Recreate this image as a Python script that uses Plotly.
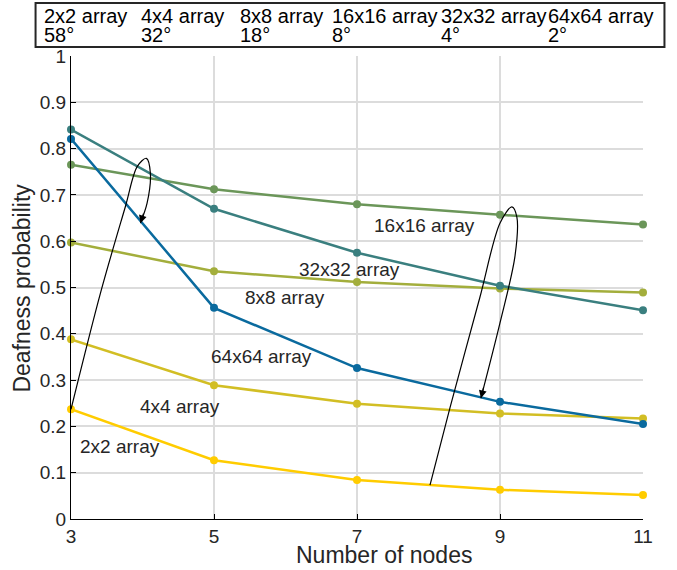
import plotly.graph_objects as go

nodes = [3, 5, 7, 9, 11]
series_names = ["2x2 array", "4x4 array", "8x8 array", "16x16 array", "32x32 array", "64x64 array"]
beam_widths = ["58°", "32°", "18°", "8°", "4°", "2°"]
p_2x2 = [0.237, 0.127, 0.084, 0.063, 0.052]
p_4x4 = [0.388, 0.289, 0.249, 0.228, 0.217]
p_8x8 = [0.597, 0.535, 0.512, 0.498, 0.489]
p_16x16 = [0.765, 0.712, 0.680, 0.657, 0.636]
p_32x32 = [0.841, 0.670, 0.575, 0.504, 0.451]
p_64x64 = [0.821, 0.456, 0.326, 0.253, 0.205]
series_values = [p_2x2, p_4x4, p_8x8, p_16x16, p_32x32, p_64x64]
colors = ["#FFCC00", "#D2BE24", "#A3AE3C", "#6B9659", "#3A7F7F", "#0A6A9E"]

# in-plot label positions (data coords)
label_x = [3.68, 4.53, 5.99, 7.95, 6.90, 5.66]
label_y = [0.156, 0.244, 0.479, 0.635, 0.538, 0.350]

# curved arrows (data coords)
arrow1_x = [3.000, 3.412, 3.761, 3.925, 4.054, 4.110, 4.064, 3.971]
arrow1_y = [0.237, 0.488, 0.675, 0.761, 0.779, 0.747, 0.682, 0.639]
arrow2_x = [8.021, 8.300, 8.719, 8.999, 9.166, 9.236, 9.208, 8.999, 8.733]
arrow2_y = [0.073, 0.240, 0.479, 0.639, 0.674, 0.652, 0.566, 0.423, 0.261]

# header legend positions (pixels from left of the page)
header_px = [41, 139, 238, 330, 439, 546]

W, H = 677, 570
PL, PR, PT, PB = 70.5, 643.5, 56, 519
ML, MR, MT, MB = PL, W - PR, PT, H - PB
FONT = "Liberation Sans, Arial, sans-serif"
TXT = "#262626"

fig = go.Figure()
for name, vals, c in zip(series_names, series_values, colors):
    fig.add_trace(go.Scatter(x=nodes, y=vals, mode="lines+markers", name=name,
                             line=dict(color=c, width=2.5),
                             marker=dict(color=c, size=8), cliponaxis=False))

for ax_, ay_ in [(arrow1_x, arrow1_y), (arrow2_x, arrow2_y)]:
    fig.add_trace(go.Scatter(x=ax_, y=ay_, mode="lines", line=dict(color="black", width=1.2,
                             shape="spline", smoothing=0.9), cliponaxis=False, hoverinfo="skip"))

annotations = []
annotations.append(dict(x=arrow1_x[-1], y=arrow1_y[-1], xref="x", yref="y", ax=3.5, ay=-11,
                        showarrow=True, arrowhead=2, arrowsize=1.3, arrowwidth=1.2,
                        arrowcolor="black", text=""))
annotations.append(dict(x=arrow2_x[-1], y=arrow2_y[-1], xref="x", yref="y", ax=3, ay=-12,
                        showarrow=True, arrowhead=2, arrowsize=1.3, arrowwidth=1.2,
                        arrowcolor="black", text=""))

for name, lx, ly in zip(series_names, label_x, label_y):
    annotations.append(dict(x=lx, y=ly, xref="x", yref="y", text=name, showarrow=False,
                            font=dict(size=19, color=TXT, family=FONT)))

pw = PR - PL
ph = PB - PT
def px_to_paper_x(px):
    return (px - PL) / pw
def py_to_paper_y(py):
    return (PB - py) / ph

for name, deg, hx in zip(series_names, beam_widths, header_px):
    annotations.append(dict(x=px_to_paper_x(hx), y=py_to_paper_y(15.5), xref="paper", yref="paper",
                            text=name, showarrow=False, xanchor="left", yanchor="middle",
                            font=dict(size=20, color="black", family=FONT)))
    annotations.append(dict(x=px_to_paper_x(hx), y=py_to_paper_y(35), xref="paper", yref="paper",
                            text=deg, showarrow=False, xanchor="left", yanchor="middle",
                            font=dict(size=20, color="black", family=FONT)))

# axis titles
annotations.append(dict(x=px_to_paper_x(384), y=py_to_paper_y(555), xref="paper", yref="paper",
                        text="Number of nodes", showarrow=False, xanchor="center", yanchor="middle",
                        font=dict(size=23, color=TXT, family=FONT)))
annotations.append(dict(x=px_to_paper_x(21), y=py_to_paper_y(288), xref="paper", yref="paper",
                        text="Deafness probability", showarrow=False, xanchor="center", yanchor="middle",
                        textangle=-90, font=dict(size=23, color=TXT, family=FONT)))

shapes = [dict(type="rect", xref="paper", yref="paper",
               x0=px_to_paper_x(35), x1=px_to_paper_x(665),
               y0=py_to_paper_y(47), y1=py_to_paper_y(3),
               line=dict(color="#262626", width=2), fillcolor="rgba(0,0,0,0)")]

fig.update_layout(
    width=W, height=H, showlegend=False,
    margin=dict(l=ML, r=MR, t=MT, b=MB, pad=0),
    paper_bgcolor="white", plot_bgcolor="white",
    font=dict(family=FONT, color=TXT),
    annotations=annotations, shapes=shapes,
    xaxis=dict(range=[3, 11], tickvals=nodes, ticktext=[str(n) for n in nodes],
               showgrid=True, gridcolor="#DCDCDC", gridwidth=1.5, zeroline=False,
               showline=True, linecolor="black", linewidth=1.2,
               ticks="inside", ticklen=5, tickcolor="black",
               tickfont=dict(size=19, color=TXT), automargin=False),
    yaxis=dict(range=[0, 1], tickvals=[i / 10 for i in range(11)],
               ticktext=["0"] + ["0.%d" % i for i in range(1, 10)] + ["1"],
               showgrid=True, gridcolor="#DCDCDC", gridwidth=1.5, zeroline=False,
               showline=True, linecolor="black", linewidth=1.2,
               ticks="inside", ticklen=5, tickcolor="black",
               tickfont=dict(size=19, color=TXT), automargin=False),
)

fig.write_html("out.html", config={"displayModeBar": False},
               post_script="document.body.style.margin='0px';")
